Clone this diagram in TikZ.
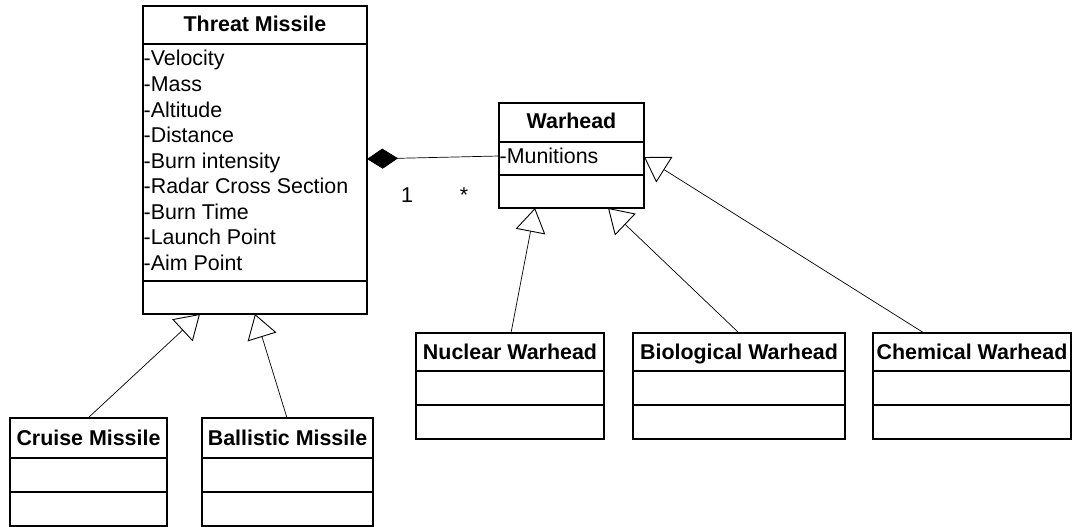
\documentclass[tikz,border=0pt]{standalone}
\usepackage{fontspec}
\setmainfont{Liberation Sans}
\usetikzlibrary{arrows.meta,calc}
\begin{document}
\begin{tikzpicture}[x=1pt,y=-1pt,
  classbox/.style={draw, line width=1.2pt, rectangle, inner sep=0pt, outer sep=0pt, anchor=north west},
  ctitle/.style={font=\fontsize{21.4}{25}\selectfont\bfseries, inner sep=0pt, anchor=base},
  attr/.style={font=\fontsize{21.4}{25}\selectfont, inner sep=0pt, anchor=base west},
  mult/.style={font=\fontsize{21.4}{25}\selectfont, inner sep=0pt, anchor=base},
  divider/.style={line width=1.2pt},
  inherit/.style={line width=0.7pt, -{Triangle[open, length=24pt, width=30pt, line width=0.9pt, fill=white]}},
  compose/.style={line width=0.7pt, -{Diamond[length=31pt, width=20pt, fill=black]}}
]
\useasboundingbox (0,0) rectangle (1073,527);

% ---- Threat Missile ----
\node[classbox, minimum width=224pt, minimum height=308pt] (tm) at (143,6) {};
\draw[divider] ($(tm.north west)+(0,38)$) -- ($(tm.north east)+(0,38)$);
\draw[divider] ($(tm.south west)+(0,-33)$) -- ($(tm.south east)+(0,-33)$);
\node[ctitle] (tmT) at ($(tm.north)+(0,26)$) {Threat Missile};
\foreach \a [count=\i from 0] in {Velocity,Mass,Altitude,Distance,Burn intensity,Radar Cross Section,Burn Time,Launch Point,Aim Point}
  \node[attr] (tmA\i) at ($(tm.north west)+(0.5,60+25.5*\i)$) {-\a};

% ---- Warhead ----
\node[classbox, minimum width=145pt, minimum height=105pt] (wh) at (499,103) {};
\draw[divider] ($(wh.north west)+(0,39)$) -- ($(wh.north east)+(0,39)$);
\draw[divider] ($(wh.north west)+(0,72)$) -- ($(wh.north east)+(0,72)$);
\node[ctitle] (whT) at ($(wh.north)+(0,25)$) {Warhead};
\node[attr] (whA) at ($(wh.north west)+(0.5,60)$) {-Munitions};

% ---- Subclasses of Threat Missile ----
\node[classbox, minimum width=157pt, minimum height=108pt] (cm) at (10,418) {};
\node[classbox, minimum width=171pt, minimum height=108pt] (bm) at (202,418) {};
% ---- Subclasses of Warhead ----
\node[classbox, minimum width=188pt, minimum height=106pt] (nw) at (416,333) {};
\node[classbox, minimum width=212pt, minimum height=106pt] (bw) at (633,333) {};
\node[classbox, minimum width=198pt, minimum height=106pt] (cw) at (873,333) {};

\foreach \b/\t in {cm/Cruise Missile, bm/Ballistic Missile}{
  \draw[divider] ($(\b.north west)+(0,40)$) -- ($(\b.north east)+(0,40)$);
  \draw[divider] ($(\b.north west)+(0,74)$) -- ($(\b.north east)+(0,74)$);
  \node[ctitle] (\b T) at ($(\b.north)+(0,27)$) {\t};
}
\foreach \b/\t in {nw/Nuclear Warhead, bw/Biological Warhead, cw/Chemical Warhead}{
  \draw[divider] ($(\b.north west)+(0,38)$) -- ($(\b.north east)+(0,38)$);
  \draw[divider] ($(\b.north west)+(0,72)$) -- ($(\b.north east)+(0,72)$);
  \node[ctitle] (\b T) at ($(\b.north)+(0,26)$) {\t};
}

% ---- Composition: Threat Missile 1 -- * Warhead ----
\draw[compose] ($(wh.north west)+(0,53)$) -- ($(tm.north east)+(0,153)$);
\node[mult] (m1) at (407,202) {1};
\node[mult] (m2) at (464,202) {*};

% ---- Generalizations ----
\draw[inherit] ($(cm.north west)+(78,0)$) -- ($(tm.south west)+(57,0)$);
\draw[inherit] ($(bm.north west)+(85,0)$) -- ($(tm.south west)+(112,0)$);
\draw[inherit] ($(nw.north west)+(95,0)$) -- ($(wh.south west)+(36,0)$);
\draw[inherit] ($(bw.north west)+(106,0)$) -- ($(wh.south west)+(109,0)$);
\draw[inherit] ($(cw.north west)+(51,0)$) -- ($(wh.north east)+(0,54)$);
\end{tikzpicture}
\end{document}
